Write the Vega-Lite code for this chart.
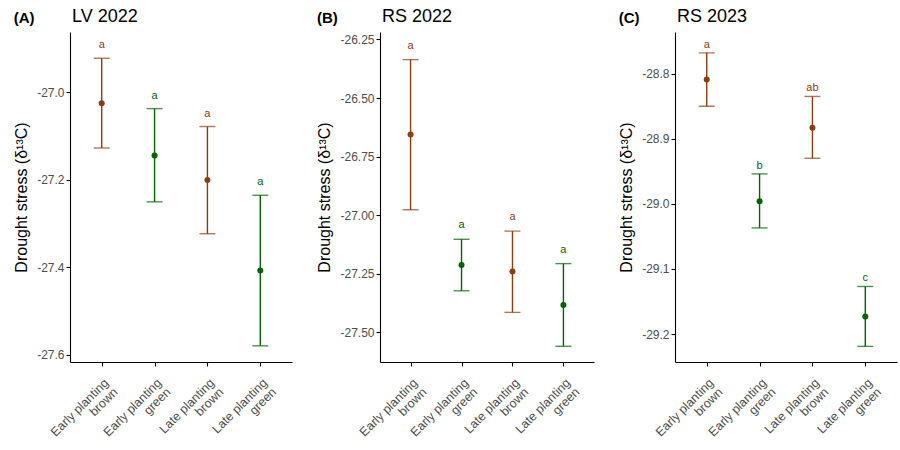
{
  "$schema": "https://vega.github.io/schema/vega-lite/v6.json",
  "padding": {"left": 13, "top": 8, "right": 5, "bottom": 5},
  "background": "white",
  "spacing": 24,
  "data": {"values": [
    {"panel": "A", "treatment": "Early planting brown", "leaf": "brown", "mean": -27.025, "lower": -27.127, "upper": -26.922, "letter": "a"},
    {"panel": "A", "treatment": "Early planting green", "leaf": "green", "mean": -27.144, "lower": -27.250, "upper": -27.037, "letter": "a"},
    {"panel": "A", "treatment": "Late planting brown", "leaf": "brown", "mean": -27.200, "lower": -27.323, "upper": -27.078, "letter": "a"},
    {"panel": "A", "treatment": "Late planting green", "leaf": "green", "mean": -27.407, "lower": -27.579, "upper": -27.235, "letter": "a"},
    {"panel": "B", "treatment": "Early planting brown", "leaf": "brown", "mean": -26.656, "lower": -26.977, "upper": -26.336, "letter": "a"},
    {"panel": "B", "treatment": "Early planting green", "leaf": "green", "mean": -27.213, "lower": -27.323, "upper": -27.103, "letter": "a"},
    {"panel": "B", "treatment": "Late planting brown", "leaf": "brown", "mean": -27.241, "lower": -27.415, "upper": -27.068, "letter": "a"},
    {"panel": "B", "treatment": "Late planting green", "leaf": "green", "mean": -27.384, "lower": -27.560, "upper": -27.207, "letter": "a"},
    {"panel": "C", "treatment": "Early planting brown", "leaf": "brown", "mean": -28.809, "lower": -28.850, "upper": -28.768, "letter": "a"},
    {"panel": "C", "treatment": "Early planting green", "leaf": "green", "mean": -28.996, "lower": -29.037, "upper": -28.954, "letter": "b"},
    {"panel": "C", "treatment": "Late planting brown", "leaf": "brown", "mean": -28.883, "lower": -28.930, "upper": -28.835, "letter": "ab"},
    {"panel": "C", "treatment": "Late planting green", "leaf": "green", "mean": -29.173, "lower": -29.219, "upper": -29.127, "letter": "c"}
  ]},
  "hconcat": [
    {
      "title": {"text": "(A)", "anchor": "start", "frame": "bounds", "fontWeight": "bold", "fontSize": 15, "dy": 18, "offset": 0},
      "vconcat": [{
        "title": {"text": "LV 2022", "anchor": "start", "frame": "group", "fontSize": 18, "fontWeight": "normal", "offset": 6, "dx": 2},
        "width": 222, "height": 330,
        "transform": [{"filter": "datum.panel === 'A'"}],
        "encoding": {
          "x": {"field": "treatment", "type": "nominal", "sort": null, "title": null, "scale": {"type": "point", "padding": 0.6}},
          "color": {"field": "leaf", "type": "nominal", "legend": null, "scale": {"domain": ["brown", "green"], "range": ["#8B3D12", "#006400"]}}
        },
        "layer": [
          {"mark": {"type": "rule", "strokeWidth": 1.4},
           "encoding": {"y": {"field": "lower", "type": "quantitative", "title": "Drought stress (δ¹³C)", "scale": {"domain": [-27.616, -26.862], "nice": false, "zero": false}, "axis": {"values": [-27.6, -27.4, -27.2, -27.0], "labelExpr": "(datum.value < 0 ? '-' : '') + format(abs(datum.value), '.1f')"}}, "y2": {"field": "upper"}}},
          {"mark": {"type": "tick", "size": 16, "thickness": 1.4, "orient": "horizontal"},
           "encoding": {"y": {"field": "upper", "type": "quantitative", "title": "Drought stress (δ¹³C)", "scale": {"domain": [-27.616, -26.862], "nice": false, "zero": false}}}},
          {"mark": {"type": "tick", "size": 16, "thickness": 1.4, "orient": "horizontal"},
           "encoding": {"y": {"field": "lower", "type": "quantitative", "title": "Drought stress (δ¹³C)", "scale": {"domain": [-27.616, -26.862], "nice": false, "zero": false}}}},
          {"mark": {"type": "point", "filled": true, "size": 36, "opacity": 1},
           "encoding": {"y": {"field": "mean", "type": "quantitative", "title": "Drought stress (δ¹³C)", "scale": {"domain": [-27.616, -26.862], "nice": false, "zero": false}}}},
          {"mark": {"type": "text", "fontSize": 11, "dy": -10, "baseline": "alphabetic", "font": "Liberation Sans"},
           "encoding": {"y": {"field": "upper", "type": "quantitative", "title": "Drought stress (δ¹³C)", "scale": {"domain": [-27.616, -26.862], "nice": false, "zero": false}}, "text": {"field": "letter"}}}
        ]
      }]
    },
    {
      "title": {"text": "(B)", "anchor": "start", "frame": "bounds", "fontWeight": "bold", "fontSize": 15, "dy": 18, "offset": 0},
      "vconcat": [{
        "title": {"text": "RS 2022", "anchor": "start", "frame": "group", "fontSize": 18, "fontWeight": "normal", "offset": 6, "dx": 2},
        "width": 214, "height": 330,
        "transform": [{"filter": "datum.panel === 'B'"}],
        "encoding": {
          "x": {"field": "treatment", "type": "nominal", "sort": null, "title": null, "scale": {"type": "point", "padding": 0.6}},
          "color": {"field": "leaf", "type": "nominal", "legend": null, "scale": {"domain": ["brown", "green"], "range": ["#8B3D12", "#006400"]}}
        },
        "layer": [
          {"mark": {"type": "rule", "strokeWidth": 1.4},
           "encoding": {"y": {"field": "lower", "type": "quantitative", "title": "Drought stress (δ¹³C)", "scale": {"domain": [-27.627, -26.218], "nice": false, "zero": false}, "axis": {"values": [-27.5, -27.25, -27.0, -26.75, -26.5, -26.25], "labelExpr": "(datum.value < 0 ? '-' : '') + format(abs(datum.value), '.2f')"}}, "y2": {"field": "upper"}}},
          {"mark": {"type": "tick", "size": 16, "thickness": 1.4, "orient": "horizontal"},
           "encoding": {"y": {"field": "upper", "type": "quantitative", "title": "Drought stress (δ¹³C)", "scale": {"domain": [-27.627, -26.218], "nice": false, "zero": false}}}},
          {"mark": {"type": "tick", "size": 16, "thickness": 1.4, "orient": "horizontal"},
           "encoding": {"y": {"field": "lower", "type": "quantitative", "title": "Drought stress (δ¹³C)", "scale": {"domain": [-27.627, -26.218], "nice": false, "zero": false}}}},
          {"mark": {"type": "point", "filled": true, "size": 36, "opacity": 1},
           "encoding": {"y": {"field": "mean", "type": "quantitative", "title": "Drought stress (δ¹³C)", "scale": {"domain": [-27.627, -26.218], "nice": false, "zero": false}}}},
          {"mark": {"type": "text", "fontSize": 11, "dy": -11, "baseline": "alphabetic", "font": "Liberation Sans"},
           "encoding": {"y": {"field": "upper", "type": "quantitative", "title": "Drought stress (δ¹³C)", "scale": {"domain": [-27.627, -26.218], "nice": false, "zero": false}}, "text": {"field": "letter"}}}
        ]
      }]
    },
    {
      "title": {"text": "(C)", "anchor": "start", "frame": "bounds", "fontWeight": "bold", "fontSize": 15, "dy": 18, "offset": 0},
      "vconcat": [{
        "title": {"text": "RS 2023", "anchor": "start", "frame": "group", "fontSize": 18, "fontWeight": "normal", "offset": 6, "dx": 2},
        "width": 222, "height": 330,
        "transform": [{"filter": "datum.panel === 'C'"}],
        "encoding": {
          "x": {"field": "treatment", "type": "nominal", "sort": null, "title": null, "scale": {"type": "point", "padding": 0.6}},
          "color": {"field": "leaf", "type": "nominal", "legend": null, "scale": {"domain": ["brown", "green"], "range": ["#8B3D12", "#006400"]}}
        },
        "layer": [
          {"mark": {"type": "rule", "strokeWidth": 1.4},
           "encoding": {"y": {"field": "lower", "type": "quantitative", "title": "Drought stress (δ¹³C)", "scale": {"domain": [-29.243, -28.736], "nice": false, "zero": false}, "axis": {"values": [-29.2, -29.1, -29.0, -28.9, -28.8], "labelExpr": "(datum.value < 0 ? '-' : '') + format(abs(datum.value), '.1f')"}}, "y2": {"field": "upper"}}},
          {"mark": {"type": "tick", "size": 16, "thickness": 1.4, "orient": "horizontal"},
           "encoding": {"y": {"field": "upper", "type": "quantitative", "title": "Drought stress (δ¹³C)", "scale": {"domain": [-29.243, -28.736], "nice": false, "zero": false}}}},
          {"mark": {"type": "tick", "size": 16, "thickness": 1.4, "orient": "horizontal"},
           "encoding": {"y": {"field": "lower", "type": "quantitative", "title": "Drought stress (δ¹³C)", "scale": {"domain": [-29.243, -28.736], "nice": false, "zero": false}}}},
          {"mark": {"type": "point", "filled": true, "size": 36, "opacity": 1},
           "encoding": {"y": {"field": "mean", "type": "quantitative", "title": "Drought stress (δ¹³C)", "scale": {"domain": [-29.243, -28.736], "nice": false, "zero": false}}}},
          {"mark": {"type": "text", "fontSize": 11, "dy": -5, "baseline": "alphabetic", "font": "Liberation Sans"},
           "encoding": {"y": {"field": "upper", "type": "quantitative", "title": "Drought stress (δ¹³C)", "scale": {"domain": [-29.243, -28.736], "nice": false, "zero": false}}, "text": {"field": "letter"}}}
        ]
      }]
    }
  ],
  "config": {
    "font": "Liberation Sans",
    "view": {"stroke": null},
    "title": {"font": "Liberation Sans", "color": "black"},
    "axis": {"grid": false, "domainColor": "black", "domainWidth": 1.1, "tickColor": "black", "tickWidth": 1.1, "tickSize": 4, "labelPadding": 2, "labelColor": "#4D4D4D", "labelFontSize": 12, "labelFont": "Liberation Sans", "titleFont": "Liberation Sans", "titleFontSize": 16, "titleFontWeight": "normal", "titleColor": "black", "titlePadding": 7},
    "axisX": {"labelAngle": -45, "labelAlign": "right", "labelBaseline": "top", "labelPadding": 10, "labelFontSize": 12.5, "labelLineHeight": 13, "labelExpr": "[slice(datum.label, 0, lastindexof(datum.label, ' ')), slice(datum.label, lastindexof(datum.label, ' ') + 1)]"}
  }
}
